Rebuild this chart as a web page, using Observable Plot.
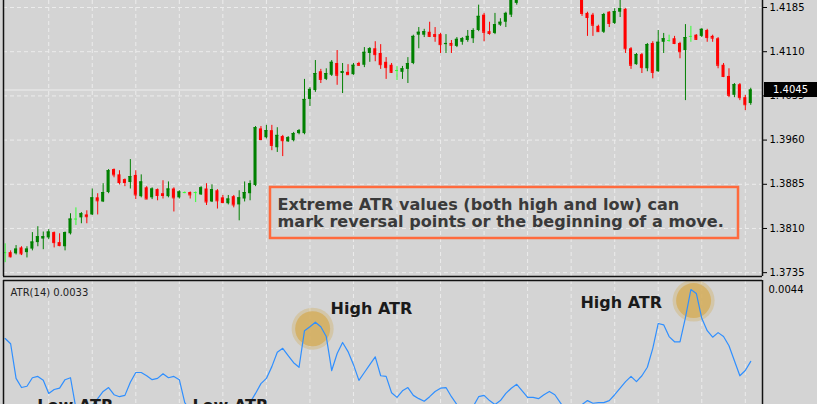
<!DOCTYPE html>
<html><head><meta charset="utf-8">
<script src="https://cdn.jsdelivr.net/npm/d3@7"></script>
<script src="https://cdn.jsdelivr.net/npm/@observablehq/plot@0.6"></script>
<style>
html,body{margin:0;padding:0;background:#d4d4d4;width:817px;height:404px;overflow:hidden;}
#wrap{position:relative;width:817px;height:404px;overflow:hidden;}
#top,#bottom{position:absolute;left:0;}
#top{top:0}
#bottom{top:279px}
#tag{position:absolute;left:764px;width:53px;height:15px;background:#000;color:#fff;font:10px "DejaVu Sans";line-height:15px;text-align:center}
</style></head><body>
<div id="wrap"><div id="top"></div><div id="bottom"></div><div id="tag"></div></div>
<script>
// ---- candle data (138 bars) ----
const open = [1.3769,1.3769,1.3767,1.3777,1.3769,1.3775,1.3786,1.3792,1.3794,1.3803,
1.3786,1.3779,1.3801,1.3826,1.3828,1.3833,1.3833,1.3862,1.3855,1.3871,
1.3910,1.3901,1.3893,1.3888,1.3900,1.3864,1.3879,1.3862,1.3876,1.3869,
1.3864,1.3877,1.3862,1.3871,1.3871,1.3871,1.3867,1.3877,1.3855,1.3874,
1.3862,1.3852,1.3864,1.3850,1.3860,1.3869,1.3883,1.3979,1.3964,1.3976,
1.3947,1.3966,1.3957,1.3959,1.3971,1.3971,1.4029,1.4044,1.4076,1.4063,
1.4070,1.4090,1.4073,1.4075,1.4071,1.4090,1.4087,1.4107,1.4115,1.4107,
1.4092,1.4087,1.4078,1.4075,1.4080,1.4090,1.4138,1.4138,1.4143,1.4139,
1.4139,1.4122,1.4124,1.4119,1.4126,1.4129,1.4132,1.4146,1.4172,1.4144,
1.4141,1.4155,1.4160,1.4172,1.4192,1.4215,1.4228,1.4222,1.4234,1.4230,
1.4240,1.4236,1.4229,1.4235,1.4231,1.4222,1.4212,1.4175,1.4172,1.4153,
1.4143,1.4177,1.4158,1.4177,1.4182,1.4115,1.4088,1.4105,1.4081,1.4124,
1.4076,1.4126,1.4129,1.4132,1.4124,1.4112,1.4136,1.4138,1.4136,1.4146,
1.4136,1.4132,1.4087,1.4068,1.4036,1.4054,1.4032,1.4022];
const high = [1.3784,1.3772,1.3781,1.3779,1.3779,1.3803,1.3813,1.3804,1.3808,1.3804,
1.3801,1.3804,1.3835,1.3845,1.3837,1.3840,1.3877,1.3869,1.3886,1.3910,
1.3911,1.3908,1.3894,1.3927,1.3908,1.3901,1.3881,1.3879,1.3877,1.3891,
1.3889,1.3879,1.3874,1.3872,1.3872,1.3872,1.3881,1.3886,1.3884,1.3876,
1.3866,1.3866,1.3866,1.3874,1.3889,1.3891,1.3983,1.3983,1.3985,1.3985,
1.3981,1.3968,1.3966,1.3973,1.3978,1.4063,1.4049,1.4095,1.4080,1.4081,
1.4095,1.4112,1.4090,1.4088,1.4090,1.4092,1.4117,1.4117,1.4127,1.4122,
1.4100,1.4090,1.4085,1.4085,1.4100,1.4138,1.4151,1.4148,1.4160,1.4151,
1.4141,1.4139,1.4129,1.4134,1.4134,1.4146,1.4149,1.4189,1.4175,1.4160,
1.4175,1.4166,1.4177,1.4214,1.4222,1.4232,1.4240,1.4238,1.4246,1.4244,
1.4252,1.4248,1.4240,1.4244,1.4239,1.4233,1.4218,1.4177,1.4175,1.4155,
1.4175,1.4178,1.4183,1.4200,1.4183,1.4117,1.4107,1.4107,1.4124,1.4127,
1.4146,1.4141,1.4138,1.4136,1.4126,1.4156,1.4153,1.4139,1.4149,1.4148,
1.4138,1.4134,1.4090,1.4081,1.4056,1.4056,1.4036,1.4048];
const low = [1.3752,1.3760,1.3765,1.3764,1.3760,1.3772,1.3779,1.3774,1.3791,1.3777,
1.3779,1.3772,1.3799,1.3815,1.3818,1.3818,1.3832,1.3833,1.3854,1.3869,
1.3896,1.3884,1.3881,1.3877,1.3859,1.3862,1.3859,1.3859,1.3857,1.3860,
1.3862,1.3838,1.3860,1.3869,1.3860,1.3854,1.3866,1.3849,1.3854,1.3843,
1.3852,1.3850,1.3845,1.3823,1.3855,1.3857,1.3881,1.3959,1.3962,1.3942,
1.3939,1.3932,1.3956,1.3957,1.3969,1.3969,1.4017,1.4041,1.4056,1.4061,
1.4068,1.4053,1.4039,1.4070,1.4070,1.4085,1.4083,1.4092,1.4093,1.4080,
1.4063,1.4073,1.4061,1.4063,1.4056,1.4088,1.4115,1.4134,1.4134,1.4126,
1.4107,1.4107,1.4107,1.4117,1.4121,1.4126,1.4124,1.4144,1.4127,1.4138,
1.4139,1.4153,1.4151,1.4168,1.4189,1.4208,1.4218,1.4216,1.4225,1.4222,
1.4231,1.4224,1.4220,1.4226,1.4218,1.4210,1.4170,1.4136,1.4136,1.4143,
1.4141,1.4151,1.4156,1.4168,1.4107,1.4080,1.4087,1.4073,1.4076,1.4064,
1.4075,1.4107,1.4126,1.4122,1.4098,1.4027,1.4126,1.4129,1.4134,1.4126,
1.4126,1.4081,1.4066,1.4032,1.4032,1.4027,1.4010,1.4019];
const close = [1.3769,1.3762,1.3775,1.3767,1.3775,1.3787,1.3796,1.3796,1.3804,1.3786,
1.3781,1.3803,1.3826,1.3826,1.3835,1.3830,1.3862,1.3857,1.3871,1.3908,
1.3901,1.3888,1.3888,1.3898,1.3867,1.3889,1.3860,1.3877,1.3866,1.3866,
1.3877,1.3862,1.3872,1.3871,1.3867,1.3871,1.3879,1.3855,1.3876,1.3857,
1.3854,1.3860,1.3850,1.3862,1.3871,1.3886,1.3981,1.3961,1.3976,1.3951,
1.3968,1.3959,1.3964,1.3971,1.3976,1.4029,1.4046,1.4073,1.4063,1.4073,
1.4092,1.4070,1.4076,1.4071,1.4087,1.4087,1.4109,1.4115,1.4105,1.4088,
1.4083,1.4075,1.4078,1.4081,1.4090,1.4136,1.4143,1.4144,1.4136,1.4136,
1.4122,1.4124,1.4121,1.4131,1.4132,1.4136,1.4146,1.4170,1.4143,1.4141,
1.4156,1.4160,1.4175,1.4206,1.4215,1.4228,1.4222,1.4234,1.4230,1.4240,
1.4236,1.4229,1.4235,1.4231,1.4222,1.4214,1.4175,1.4168,1.4155,1.4144,
1.4173,1.4158,1.4178,1.4183,1.4115,1.4087,1.4105,1.4083,1.4122,1.4075,
1.4126,1.4132,1.4129,1.4124,1.4110,1.4134,1.4136,1.4131,1.4148,1.4134,
1.4133,1.4087,1.4068,1.4036,1.4054,1.4032,1.4020,1.4045];
// ---- ATR(14) per bar ----
const atr = [0.00365,0.00357,0.00304,0.00290,0.00292,0.00305,0.00307,0.00301,0.00281,0.00287,
0.00289,0.00302,0.00305,0.00258,0.00252,0.00255,0.00263,0.00273,0.00284,0.00290,
0.00279,0.00276,0.00278,0.00298,0.00313,0.00313,0.00308,0.00302,0.00304,0.00311,
0.00305,0.00307,0.00302,0.00267,0.00255,0.00249,0.00246,0.00247,0.00243,0.00246,
0.00241,0.00244,0.00247,0.00252,0.00258,0.00267,0.00281,0.00296,0.00304,0.00322,
0.00344,0.00350,0.00339,0.00328,0.00321,0.00377,0.00383,0.00390,0.00383,0.00368,
0.00316,0.00342,0.00359,0.00345,0.00325,0.00301,0.00313,0.00325,0.00337,0.00308,
0.00307,0.00282,0.00275,0.00285,0.00290,0.00278,0.00273,0.00269,0.00276,0.00284,
0.00289,0.00290,0.00276,0.00264,0.00255,0.00252,0.00261,0.00276,0.00278,0.00270,
0.00264,0.00270,0.00281,0.00289,0.00295,0.00285,0.00275,0.00275,0.00273,0.00279,
0.00284,0.00279,0.00267,0.00255,0.00252,0.00255,0.00264,0.00270,0.00266,0.00267,
0.00267,0.00270,0.00279,0.00289,0.00299,0.00307,0.00299,0.00308,0.00321,0.00350,
0.00388,0.00386,0.00368,0.00360,0.00360,0.00397,0.00440,0.00434,0.00396,0.00377,
0.00367,0.00374,0.00368,0.00354,0.00331,0.00308,0.00316,0.00330];

const priceTicks = [1.4185,1.4110,1.4035,1.3960,1.3885,1.3810,1.3735];
const bid = 1.4045;
const gridBars = [8,16,24,32,40,48,56,64,72,80,88,96,104,112,120,128,136];
const atrTicks = [0.0044];
const atrLabel = "ATR(14) 0.0033";

// annotation box + text
const noteX1 = 48.75, noteX2 = 134.75, noteY1 = 1.3793, noteY2 = 1.38796;
const noteTextX = 50.04, noteTextY = 1.38622;
const noteText = "Extreme ATR values (both high and low) can\nmark reversal points or the beginning of a move.";
// highlights in ATR pane
const glowBar = [56.5, 126.5];
const glowAtr = [0.0038, 0.00423];
const highLabelBar = [59.8, 105.7];
const highLabelAtr = [0.00411, 0.0042];
const lowLabelBar = [5.9, 34.4];
const lowLabelAtr = [0.002625, 0.002625];

const UP = "#008000", DOWN = "#ff0000", DOJI = "#33ff33";
const candles = open.map((o, i) => ({
  i, open: o, high: high[i], low: low[i], close: close[i],
  color: close[i] > o ? UP : close[i] < o ? DOWN : DOJI
}));
const atrData = atr.map((a, i) => ({i, atr: a}));
const glow = glowBar.map((b, k) => ({i: b, atr: glowAtr[k]}));
const highLbl = highLabelBar.map((b, k) => ({i: b, atr: highLabelAtr[k], t: "High ATR"}));
const lowLbl = lowLabelBar.map((b, k) => ({i: b, atr: lowLabelAtr[k], t: "Low ATR"}));

const xDom = [-0.31, 139.16];
const gridColor = "#ececec";
const font = "DejaVu Sans";

const topPlot = Plot.plot({
  width: 817, height: 279,
  marginLeft: 3, marginRight: 55, marginTop: 0, marginBottom: 3,
  style: {background: "transparent", fontFamily: font, fontSize: "10px", color: "#000"},
  x: {domain: xDom, axis: null},
  y: {domain: [1.37285, 1.41969], axis: "right", ticks: priceTicks, tickFormat: d => d.toFixed(4), tickSize: 4, tickPadding: 3, label: null},
  color: {type: "identity"},
  marks: [
    Plot.ruleX(gridBars, {stroke: gridColor, strokeDasharray: "4,3"}),
    Plot.ruleY(priceTicks, {stroke: gridColor, strokeDasharray: "4,3"}),
    Plot.ruleY([bid], {stroke: "#eeeeee", strokeWidth: 1}),
    Plot.ruleX(candles, {x: "i", y1: "low", y2: "high", stroke: "color", strokeWidth: 1}),
    Plot.rect(candles, {x1: d => d.i - 0.28, x2: d => d.i + 0.28, y1: "open", y2: "close", fill: "color"}),
    Plot.ruleY(candles, {y: "close", x1: d => d.i - 0.28, x2: d => d.i + 0.28, stroke: "color"}),
    Plot.rect([0], {x1: noteX1, x2: noteX2, y1: noteY1, y2: noteY2, fill: "none", stroke: "#ff6a3d", strokeWidth: 2.5}),
    Plot.text([noteText], {x: noteTextX, y: noteTextY, text: d => d, textAnchor: "start", lineAnchor: "top", fontSize: 16.1, fontWeight: "bold", fill: "#3a3a3a", lineHeight: 1.06}),
    Plot.ruleX([xDom[0], xDom[1]], {stroke: "#111", strokeWidth: 1.5}),
    Plot.ruleY([1.37285], {stroke: "#111", strokeWidth: 1.5})
  ]
});
document.getElementById("top").appendChild(topPlot);

const tag = document.getElementById("tag");
tag.textContent = bid.toFixed(4);
tag.style.top = (topPlot.scale("y").apply(bid) - 7.5) + "px";

const atrDom = [0.002105, 0.0045377];
const botPlot = Plot.plot({
  width: 817, height: 160,
  marginLeft: 3, marginRight: 55, marginTop: 1, marginBottom: 0,
  style: {background: "transparent", fontFamily: font, fontSize: "10px", color: "#000"},
  x: {domain: xDom, axis: null},
  y: {domain: atrDom, axis: "right", ticks: atrTicks, tickFormat: d => d.toFixed(4), tickSize: 0, tickPadding: 6, label: null},
  marks: [
    Plot.ruleX(gridBars, {stroke: gridColor, strokeDasharray: "4,3"}),
    Plot.dot(glow, {x: "i", y: "atr", r: 21, fill: "#d2ab55", fillOpacity: 0.35, stroke: null}),
    Plot.dot(glow, {x: "i", y: "atr", r: 17.5, fill: "#d4ad5a", fillOpacity: 0.8, stroke: null}),
    Plot.line(atrData, {x: "i", y: "atr", stroke: "#2f8fff", strokeWidth: 1.2}),
    Plot.text(highLbl, {x: "i", y: "atr", text: "t", textAnchor: "start", fontSize: 16, fontWeight: "bold", fill: "#1a1a1a"}),
    Plot.text(lowLbl, {x: "i", y: "atr", text: "t", textAnchor: "start", fontSize: 16, fontWeight: "bold", fill: "#1a1a1a"}),
    Plot.text([atrLabel], {frameAnchor: "top-left", text: d => d, textAnchor: "start", lineAnchor: "top", dx: 7, dy: 8, fontSize: 10, fill: "#222"}),
    Plot.ruleX([xDom[0], xDom[1]], {stroke: "#111", strokeWidth: 1.5}),
    Plot.ruleY([atrDom[1]], {stroke: "#111", strokeWidth: 1.5})
  ]
});
document.getElementById("bottom").appendChild(botPlot);
</script>
</body></html>
